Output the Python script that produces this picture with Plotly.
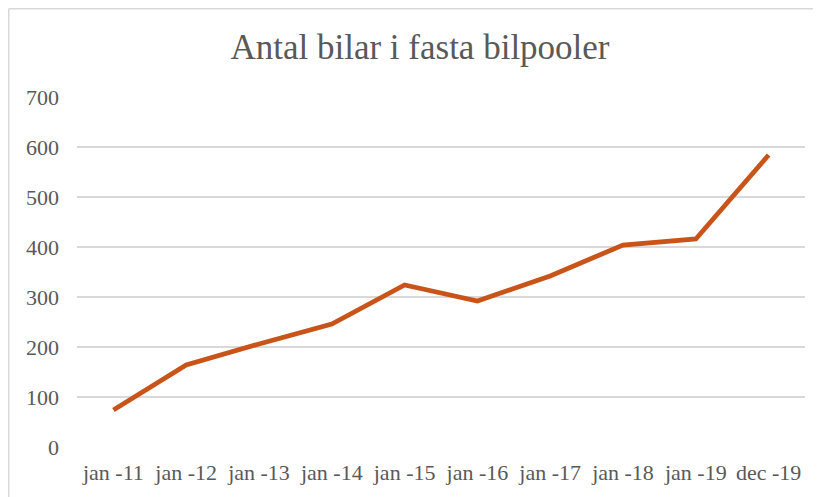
import plotly.graph_objects as go

categories = ["jan -11", "jan -12", "jan -13", "jan -14", "jan -15",
              "jan -16", "jan -17", "jan -18", "jan -19", "dec -19"]
values = [74, 164, 206, 246, 324, 292, 342, 404, 416, 584]
y_ticks = [0, 100, 200, 300, 400, 500, 600, 700]

fig = go.Figure()
fig.add_trace(go.Scatter(
    x=categories, y=values, mode="lines",
    line=dict(color="#C9541A", width=4.8),
    hoverinfo="x+y",
))

# page body has an 8px margin; figure sized so the plot lands where the reference has it
W, H = 813, 489
ml, mr, mt, mb = 69, 16, 89, 50
pw, ph = W - ml - mr, H - mt - mb

bx = (0.75 - ml) / pw
by = 1 + (mt - 0.75) / ph
border = dict(color="#D9D9D9", width=1.5)

fig.update_layout(
    width=W, height=H,
    margin=dict(l=ml, r=mr, t=mt, b=mb, autoexpand=False),
    paper_bgcolor="white", plot_bgcolor="white",
    showlegend=False,
    title=dict(text="Antal bilar i fasta bilpooler", x=412 / W, xanchor="center",
               y=1 - 39 / H, yanchor="middle", xref="container", yref="container",
               font=dict(family="Liberation Serif", size=35, color="#595959")),
    font=dict(family="Liberation Serif", size=22, color="#595959"),
    xaxis=dict(type="category", range=[-0.5, 9.5], showgrid=False, showline=False,
               zeroline=False, ticks="", tickfont=dict(size=22, color="#595959"),
               ticklabelstandoff=10, automargin=False),
    yaxis=dict(range=[0, 700], tickvals=y_ticks, showgrid=True,
               gridcolor="#D9D9D9", gridwidth=1.5, zeroline=False, showline=False,
               ticks="", tickfont=dict(size=22, color="#595959"), ticklabelstandoff=17,
               automargin=False),
    shapes=[
        dict(type="line", xref="paper", yref="paper", x0=bx, x1=bx,
             y0=-(mb + 5) / ph, y1=by, line=border, layer="below"),
        dict(type="line", xref="paper", yref="paper", x0=bx, x1=(W + 20 - ml) / pw,
             y0=by, y1=by, line=border, layer="below"),
    ],
)

fig.write_html("out.html")
